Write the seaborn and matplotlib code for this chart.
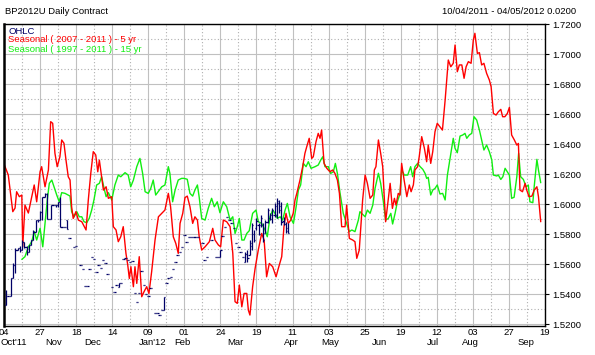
import matplotlib
matplotlib.use("Agg")
import matplotlib.pyplot as plt
import matplotlib.transforms as mtransforms
import numpy as np
import pandas as pd
import seaborn as sns

# ---------------- data (x = trading-day index from 04 Oct 2011) ----------------
red_day = [0.0, 1.9, 3.9, 4.9, 5.6, 6.8, 7.9, 8.3, 9.3, 10.8, 12.3, 13.4, 14.5, 16.0, 16.7, 18.2, 19.7, 20.7, 21.6, 22.6,
           23.6, 24.8, 25.6, 26.6, 27.5, 28.5, 29.3, 30.0, 30.7, 31.9, 33.0, 34.5, 36.4, 37.4, 38.5, 39.6, 40.7, 41.6, 42.3, 43.0,
           44.1, 45.3, 46.3, 47.8, 48.5, 49.7, 50.7, 51.8, 52.9, 54.1, 54.9, 55.6, 56.3, 57.4, 58.1, 58.9, 60.0, 61.1, 62.1, 63.3,
           64.3, 65.5, 67.0, 68.5, 70.0, 71.4, 72.9, 73.9, 75.1, 76.2, 77.3, 78.1, 79.3, 80.3, 81.3, 82.5, 83.7, 84.7, 85.8, 86.6,
           87.7, 89.2, 91.1, 92.6, 93.6, 95.1, 96.1, 97.3, 98.8, 100.3, 101.5, 102.5, 103.5, 104.4, 105.5, 106.5, 107.7, 108.4, 109.1, 110.3,
           111.4, 112.8, 114.3, 115.4, 116.5, 117.7, 119.2, 120.7, 121.7, 123.2, 124.2, 125.1, 126.1, 127.2, 128.3, 129.1, 129.9, 131.3, 132.5, 133.5,
           134.3, 135.4, 136.5, 137.2, 138.4, 139.4, 140.2, 140.9, 142.0, 143.2, 144.6, 145.8, 146.8, 147.9, 148.8, 149.8, 151.3, 152.0, 153.2, 154.7,
           155.7, 156.5, 157.6, 159.1, 160.2, 161.2, 162.4, 163.6, 164.3, 165.0, 166.1, 167.1, 168.0, 168.6, 169.3, 170.1, 171.3, 172.3, 173.2, 173.9,
           174.9, 175.7, 176.4, 177.5, 178.7, 179.8, 180.6, 181.6, 182.3, 183.5, 184.2, 185.3, 186.5, 187.5, 188.2, 189.3, 190.2, 191.2, 192.2, 193.4,
           194.5, 195.7, 197.1, 198.2, 199.3, 200.1, 201.1, 202.0, 203.1, 204.1, 205.0, 206.0, 207.2, 208.2, 208.9, 210.0, 210.9, 211.9, 212.9, 214.1,
           215.3, 216.1, 217.1, 218.3, 219.3, 220.4, 221.2, 222.2, 223.3, 224.2, 225.2, 226.4, 227.5, 228.2, 228.9, 230.0, 231.2, 231.9, 232.9, 234.2,
           235.2, 236.4, 237.1, 238.1]
red_price = [1.6267, 1.6193, 1.5949, 1.5973, 1.6082, 1.6049, 1.6060, 1.5715, 1.5993, 1.5940, 1.6049, 1.6127, 1.6015, 1.6215, 1.6249, 1.6115, 1.6227, 1.6549, 1.6538, 1.6338,
             1.6249, 1.6315, 1.6427, 1.6405, 1.6293, 1.6182, 1.6160, 1.5982, 1.5904, 1.5949, 1.5893, 1.5882, 1.5827, 1.6027, 1.6205, 1.6349, 1.6327, 1.6215, 1.6293, 1.6215,
             1.6093, 1.6115, 1.6038, 1.6049, 1.5849, 1.5827, 1.5749, 1.5782, 1.5849, 1.5671, 1.5593, 1.5504, 1.5582, 1.5449, 1.5582, 1.5471, 1.5649, 1.5382, 1.5415, 1.5449,
             1.5404, 1.5549, 1.5760, 1.5915, 1.5938, 1.5960, 1.6071, 1.5982, 1.5782, 1.5738, 1.5671, 1.5871, 1.5938, 1.6043, 1.6053, 1.5982, 1.5871, 1.5915, 1.5893, 1.5782,
             1.5693, 1.5715, 1.5749, 1.5838, 1.5760, 1.5727, 1.5715, 1.5893, 1.5882, 1.5849, 1.5671, 1.5349, 1.5338, 1.5460, 1.5315, 1.5404, 1.5404, 1.5293, 1.5260, 1.5449,
             1.5571, 1.5693, 1.5804, 1.5760, 1.5515, 1.5604, 1.5582, 1.5515, 1.5571, 1.5649, 1.5849, 1.5938, 1.5871, 1.5893, 1.5938, 1.6027, 1.6071, 1.6160, 1.6249, 1.6338,
             1.6382, 1.6438, 1.6304, 1.6315, 1.6415, 1.6471, 1.6438, 1.6493, 1.6271, 1.6238, 1.6215, 1.6227, 1.6205, 1.6160, 1.6071, 1.5849, 1.5849, 1.5993, 1.5771, 1.5760,
             1.5749, 1.5638, 1.5693, 1.6027, 1.6193, 1.6138, 1.6038, 1.6060, 1.6227, 1.6249, 1.6427, 1.6338, 1.6249, 1.6071, 1.5882, 1.5982, 1.6138, 1.5971, 1.6038, 1.5993,
             1.6071, 1.6060, 1.6271, 1.6160, 1.6049, 1.6127, 1.6082, 1.6127, 1.6227, 1.6249, 1.6315, 1.6449, 1.6371, 1.6282, 1.6393, 1.6271, 1.6349, 1.6482, 1.6538, 1.6515,
             1.6493, 1.6693, 1.6960, 1.6915, 1.6938, 1.7060, 1.6882, 1.6927, 1.6927, 1.6838, 1.6915, 1.6949, 1.6938, 1.7093, 1.7138, 1.7004, 1.7009, 1.6927, 1.6938, 1.6871,
             1.6827, 1.6782, 1.6604, 1.6593, 1.6615, 1.6631, 1.6582, 1.6582, 1.6604, 1.6644, 1.6460, 1.6427, 1.6393, 1.6404, 1.6093, 1.6082, 1.6138, 1.6093, 1.6049, 1.6053,
             1.6093, 1.6115, 1.6049, 1.5882]

green_day = [7.9, 9.3, 10.8, 12.3, 13.4, 14.5, 16.0, 17.2, 18.2, 19.2, 20.1, 21.2, 22.2, 23.4, 24.5, 25.6, 27.1, 29.3, 30.0, 31.1,
             32.3, 33.4, 34.5, 35.5, 36.7, 37.8, 38.9, 39.9, 41.1, 42.3, 43.3, 44.4, 45.3, 46.3, 47.8, 49.2, 50.7, 51.8, 53.7, 55.1,
             56.2, 57.4, 58.9, 60.3, 61.5, 62.6, 64.0, 65.1, 66.2, 67.3, 68.9, 70.0, 71.4, 72.9, 73.6, 74.8, 75.9, 77.3, 78.8, 79.9,
             81.3, 82.5, 83.7, 84.7, 85.8, 86.6, 87.7, 89.2, 90.6, 92.1, 93.3, 94.6, 95.8, 97.3, 98.8, 100.3, 101.5, 102.5, 103.5, 104.4,
             105.5, 106.5, 107.7, 108.8, 110.3, 111.8, 112.8, 114.3, 115.8, 116.8, 118.0, 119.2, 120.2, 121.3, 122.5, 123.6, 124.7, 125.7, 126.9, 128.4,
             129.6, 130.6, 131.6, 132.8, 134.0, 135.0, 136.2, 138.0, 139.4, 140.5, 141.4, 142.4, 143.9, 144.9, 146.1, 147.0, 147.9, 149.1, 150.5, 152.0,
             153.2, 154.3, 155.7, 157.2, 157.9, 159.4, 160.2, 161.2, 162.4, 163.6, 164.6, 166.1, 167.1, 168.3, 169.3, 170.5, 171.6, 172.4, 173.5, 174.5,
             175.7, 176.4, 177.6, 179.1, 180.4, 181.3, 182.3, 183.5, 184.6, 185.8, 186.8, 187.5, 188.2, 189.3, 190.2, 191.2, 192.2, 193.4, 194.6, 195.7,
             196.7, 197.9, 199.3, 200.1, 201.1, 202.3, 203.5, 204.5, 205.3, 206.4, 207.5, 208.5, 209.7, 210.9, 211.9, 212.9, 214.1, 215.3, 216.4, 217.1,
             218.6, 219.3, 220.4, 221.3, 222.3, 223.3, 224.2, 225.2, 226.3, 227.5, 228.3, 229.2, 230.4, 231.6, 232.6, 233.3, 234.6, 235.2, 236.4, 237.1,
             238.1]
green_price = [1.5631, 1.5649, 1.5715, 1.5749, 1.5816, 1.5760, 1.5838, 1.5715, 1.5871, 1.6027, 1.6138, 1.6160, 1.6115, 1.6060, 1.6015, 1.6076, 1.6071, 1.6053, 1.5949, 1.5915,
               1.5949, 1.5915, 1.5915, 1.5882, 1.5876, 1.5904, 1.5960, 1.6027, 1.6127, 1.6138, 1.6182, 1.6104, 1.6049, 1.6076, 1.6027, 1.6127, 1.6193, 1.6182, 1.6209, 1.6193,
               1.6115, 1.6160, 1.6249, 1.6304, 1.6204, 1.6082, 1.6071, 1.6104, 1.6160, 1.6060, 1.6093, 1.6115, 1.6127, 1.6249, 1.6204, 1.6015, 1.6093, 1.6160, 1.6171, 1.6171,
               1.6165, 1.6071, 1.6053, 1.6093, 1.6127, 1.6045, 1.5904, 1.5893, 1.5971, 1.6038, 1.5982, 1.6015, 1.5942, 1.6015, 1.5982, 1.5893, 1.5915, 1.5804, 1.5849, 1.5904,
               1.5760, 1.5760, 1.5804, 1.5822, 1.5938, 1.5960, 1.5882, 1.5871, 1.5827, 1.5782, 1.5915, 1.5960, 1.5938, 1.5904, 1.5915, 1.5893, 1.5960, 1.6004, 1.5915, 1.5871,
               1.5982, 1.6093, 1.6127, 1.6271, 1.6249, 1.6282, 1.6238, 1.6249, 1.6260, 1.6293, 1.6315, 1.6249, 1.6249, 1.6204, 1.6215, 1.6271, 1.6204, 1.6071, 1.5938, 1.5871,
               1.5816, 1.5827, 1.5816, 1.5893, 1.5949, 1.5927, 1.5915, 1.5960, 1.5938, 1.5993, 1.6104, 1.6205, 1.6138, 1.6015, 1.5893, 1.5904, 1.5938, 1.5867, 1.5938, 1.6015,
               1.6071, 1.6227, 1.6193, 1.6193, 1.6249, 1.6182, 1.6249, 1.6271, 1.6249, 1.6231, 1.6204, 1.6171, 1.6178, 1.6060, 1.6093, 1.6104, 1.6127, 1.6067, 1.6071, 1.6027,
               1.6193, 1.6304, 1.6438, 1.6371, 1.6342, 1.6453, 1.6460, 1.6471, 1.6438, 1.6460, 1.6471, 1.6582, 1.6560, 1.6493, 1.6427, 1.6360, 1.6393, 1.6349, 1.6293, 1.6193,
               1.6187, 1.6193, 1.6164, 1.6182, 1.6238, 1.6215, 1.6193, 1.6038, 1.6045, 1.6182, 1.6338, 1.6182, 1.6164, 1.6115, 1.6127, 1.6015, 1.6009, 1.6115, 1.6298, 1.6227,
               1.6142]

ohlc_day = list(range(1, 30)) + [31, 32] + list(range(34, 47)) + list(range(48, 66)) + list(range(67, 87)) + \
           [88, 89, 90, 92, 94, 95, 96] + list(range(97, 127))
ohlc_open = [1.5327, 1.5387, 1.5387, 1.5507, 1.5593, 1.5693, 1.5707, 1.5693, 1.5747, 1.5713, 1.5680, 1.5727, 1.5760, 1.5813, 1.5893,
             1.5893, 1.5947, 1.6047, 1.6067, 1.5900, 1.5900, 1.5993, 1.5993, 1.5993, 1.6013, 1.5847, 1.5847, 1.5893, 1.5773,
             1.5715, 1.5722,
             1.5593, 1.5565, 1.5455, 1.5453, 1.5565, 1.5645, 1.5631, 1.5545, 1.5593, 1.5573, 1.5627, 1.5609, 1.5533,
             1.5449, 1.5415, 1.5460, 1.5445, 1.5471, 1.5635, 1.5643, 1.5627, 1.5615, 1.5618, 1.5405, 1.5345, 1.5405, 1.5553, 1.5460, 1.5398, 1.5387, 1.5438,
             1.5271, 1.5271, 1.5260, 1.5293, 1.5293, 1.5471, 1.5507, 1.5515, 1.5565, 1.5615, 1.5660, 1.5682, 1.5715, 1.5793, 1.5749, 1.5782, 1.5782, 1.5782, 1.5782, 1.5782,
             1.5742, 1.5627, 1.5649, 1.5760, 1.5645, 1.5645, 1.5645,
             1.5787, 1.5849, 1.5915, 1.5893, 1.5875, 1.5838, 1.5742, 1.5711, 1.5682, 1.5645,
             1.5615, 1.5670, 1.5660, 1.5720, 1.5800, 1.5840, 1.5860, 1.5860, 1.5860, 1.5810, 1.5880, 1.5910, 1.5900, 1.5930, 1.5930, 1.6010, 1.5990, 1.5890, 1.5870, 1.5840]
ohlc_high = [1.5427, 1.5387, 1.5507, 1.5607, 1.5707, 1.5707, 1.5720, 1.5760, 1.5747, 1.5720, 1.5727, 1.5760, 1.5827, 1.5893, 1.5893,
             1.5953, 1.6047, 1.6073, 1.6073, 1.5900, 1.5993, 1.5993, 1.5993, 1.6013, 1.6047, 1.5847, 1.5847, 1.5893, 1.5773,
             1.5715, 1.5722,
             1.5593, 1.5565, 1.5455, 1.5453, 1.5565, 1.5645, 1.5631, 1.5545, 1.5593, 1.5573, 1.5627, 1.5609, 1.5533,
             1.5449, 1.5415, 1.5460, 1.5471, 1.5471, 1.5635, 1.5643, 1.5627, 1.5615, 1.5618, 1.5405, 1.5345, 1.5405, 1.5553, 1.5460, 1.5398, 1.5387, 1.5438,
             1.5271, 1.5271, 1.5260, 1.5293, 1.5378, 1.5471, 1.5507, 1.5515, 1.5565, 1.5615, 1.5660, 1.5682, 1.5715, 1.5793, 1.5749, 1.5782, 1.5782, 1.5782, 1.5782, 1.5782,
             1.5742, 1.5627, 1.5649, 1.5760, 1.5645, 1.5645, 1.5693,
             1.5787, 1.5849, 1.5915, 1.5893, 1.5875, 1.5838, 1.5742, 1.5711, 1.5682, 1.5645,
             1.5682, 1.5693, 1.5760, 1.5871, 1.5827, 1.5905, 1.5871, 1.5927, 1.5871, 1.5893, 1.5971, 1.5938, 1.5971, 1.6005, 1.6038, 1.6027, 1.6015, 1.5915, 1.5882, 1.5871]
ohlc_low = [1.5327, 1.5387, 1.5387, 1.5507, 1.5540, 1.5693, 1.5680, 1.5693, 1.5707, 1.5660, 1.5680, 1.5727, 1.5760, 1.5813, 1.5880,
            1.5893, 1.5893, 1.6047, 1.5900, 1.5900, 1.5900, 1.5993, 1.5980, 1.5980, 1.5847, 1.5847, 1.5847, 1.5833, 1.5773,
            1.5715, 1.5722,
            1.5593, 1.5565, 1.5455, 1.5453, 1.5565, 1.5645, 1.5631, 1.5545, 1.5593, 1.5573, 1.5627, 1.5609, 1.5533,
            1.5449, 1.5415, 1.5460, 1.5445, 1.5471, 1.5635, 1.5643, 1.5627, 1.5615, 1.5618, 1.5405, 1.5345, 1.5405, 1.5553, 1.5460, 1.5398, 1.5387, 1.5438,
            1.5271, 1.5271, 1.5260, 1.5293, 1.5293, 1.5471, 1.5507, 1.5515, 1.5565, 1.5615, 1.5660, 1.5682, 1.5715, 1.5793, 1.5749, 1.5782, 1.5782, 1.5782, 1.5782, 1.5782,
            1.5742, 1.5627, 1.5649, 1.5760, 1.5645, 1.5645, 1.5645,
            1.5787, 1.5849, 1.5915, 1.5893, 1.5875, 1.5838, 1.5742, 1.5711, 1.5682, 1.5645,
            1.5615, 1.5615, 1.5660, 1.5693, 1.5749, 1.5827, 1.5793, 1.5849, 1.5749, 1.5805, 1.5871, 1.5893, 1.5871, 1.5915, 1.5905, 1.5938, 1.5860, 1.5860, 1.5805, 1.5805]
ohlc_close = [1.5387, 1.5387, 1.5507, 1.5593, 1.5693, 1.5707, 1.5693, 1.5747, 1.5713, 1.5680, 1.5727, 1.5760, 1.5813, 1.5893, 1.5893,
              1.5947, 1.6047, 1.6067, 1.5900, 1.5900, 1.5993, 1.5993, 1.5993, 1.6013, 1.5847, 1.5847, 1.5847, 1.5833, 1.5773,
              1.5715, 1.5722,
              1.5593, 1.5565, 1.5455, 1.5453, 1.5565, 1.5645, 1.5631, 1.5545, 1.5593, 1.5573, 1.5627, 1.5609, 1.5533,
              1.5449, 1.5415, 1.5460, 1.5471, 1.5471, 1.5635, 1.5643, 1.5627, 1.5615, 1.5618, 1.5405, 1.5345, 1.5405, 1.5553, 1.5460, 1.5398, 1.5387, 1.5438,
              1.5271, 1.5271, 1.5260, 1.5293, 1.5378, 1.5471, 1.5507, 1.5515, 1.5565, 1.5615, 1.5660, 1.5682, 1.5715, 1.5793, 1.5749, 1.5782, 1.5782, 1.5782, 1.5782, 1.5782,
              1.5742, 1.5627, 1.5649, 1.5760, 1.5645, 1.5645, 1.5693,
              1.5787, 1.5849, 1.5915, 1.5893, 1.5875, 1.5838, 1.5742, 1.5711, 1.5682, 1.5645,
              1.5670, 1.5640, 1.5740, 1.5860, 1.5760, 1.5890, 1.5800, 1.5910, 1.5760, 1.5880, 1.5960, 1.5930, 1.5960, 1.5990, 1.6020, 1.5960, 1.5880, 1.5870, 1.5820, 1.5810]

day_ticks = [0, 16, 32, 48, 64, 80, 96, 112, 128, 144, 160, 176, 192, 208, 224, 240]
day_labels = ["04", "27", "18", "14", "09", "01", "24", "19", "11", "03", "25", "19", "12", "03", "27", "19"]
month_labels = ["Oct'11", "Nov", "Dec", "Jan'12", "Feb", "Mar", "Apr", "May", "Jun", "Jul", "Aug", "Sep"]
month_pos = [4.4, 22.2, 39.4, 66.0, 79.3, 102.8, 127.6, 144.7, 166.8, 190.5, 206.9, 231.5]
price_ticks = [1.52, 1.54, 1.56, 1.58, 1.60, 1.62, 1.64, 1.66, 1.68, 1.70, 1.72]

# ---------------- style ----------------
sns.set_theme(style="white")
plt.rcParams["font.family"] = ["Liberation Sans", "DejaVu Sans"]
FS = 6.8
NAVY = "#000066"
RED = "#ff0000"
GREEN = "#11ee11"

fig = plt.figure(figsize=(5.95, 3.55), dpi=100)
fig.patch.set_facecolor("white")
ax = fig.add_axes([4 / 595, 1 - 326 / 355, 541 / 595, 302 / 355])
ax.set_facecolor("white")

ax.set_xlim(0, 240)
ax.set_ylim(1.5187, 1.7200)

ax.set_xticks(day_ticks)
ax.set_xticklabels(day_labels)
ax.set_xticks(np.arange(8, 240, 16), minor=True)
ax.set_yticks(price_ticks)
ax.set_yticklabels([f"{v:.4f}" for v in price_ticks])
ax.set_yticks(np.arange(1.53, 1.72, 0.02), minor=True)

ax.grid(which="major", color="#c0c0c0", lw=0.8, ls="-")
ax.grid(which="minor", color="#b0b0b0", lw=0.8, ls=(0, (1, 2)))
ax.set_axisbelow(True)

ax.yaxis.tick_right()
ax.tick_params(axis="y", which="major", direction="out", length=3, width=0.8, color="black",
               labelsize=FS, pad=2, labelcolor="black")
ax.tick_params(axis="x", which="major", direction="out", length=3, width=0.8, color="black",
               labelsize=FS, pad=-1.5, labelcolor="black")
ax.tick_params(which="minor", length=0)
for side, sp in ax.spines.items():
    sp.set_visible(True)
    sp.set_color("black")
    sp.set_linewidth(1.0)
ax.spines["left"].set_linewidth(1.8)

# seasonal lines
df_red = pd.DataFrame({"day": red_day, "price": red_price})
df_green = pd.DataFrame({"day": green_day, "price": green_price})
sns.lineplot(data=df_green, x="day", y="price", color=GREEN, lw=1.0, ax=ax, sort=False, estimator=None)
sns.lineplot(data=df_red, x="day", y="price", color=RED, lw=1.0, ax=ax, sort=False, estimator=None)

# OHLC bars
d = np.array(ohlc_day, dtype=float)
w = 0.55
ax.vlines(d, ohlc_low, ohlc_high, color=NAVY, lw=0.9, zorder=4)
ax.hlines(ohlc_open, d - w, d, color=NAVY, lw=0.9, zorder=4)
ax.hlines(ohlc_close, d, d + w, color=NAVY, lw=0.9, zorder=4)

ax.set_xlabel("")
ax.set_ylabel("")

# month labels under day labels
trans = mtransforms.blended_transform_factory(ax.transData, ax.transAxes)
for lab, pos in zip(month_labels, month_pos):
    ax.text(pos, -16.5 / 302, lab, transform=trans, ha="center", va="center", fontsize=FS, color="black")

# legend text (inside top-left)
for k, (txt, col) in enumerate([("OHLC", NAVY),
                                ("Seasonal ( 2007 - 2011 ) - 5 yr", RED),
                                ("Seasonal ( 1997 - 2011 ) - 15 yr", GREEN)]):
    fig.text(8.5 / 595, 1 - (31 + 9 * k) / 355, txt, ha="left", va="center", fontsize=FS, color=col)

# header texts
fig.text(5 / 595, 1 - 12 / 355, "BP2012U Daily Contract", ha="left", va="center", fontsize=FS, color="black")
fig.text(576 / 595, 1 - 12 / 355, "10/04/2011 - 04/05/2012 0.0200", ha="right", va="center", fontsize=FS, color="black")

fig.savefig("out.png", dpi=100, facecolor="white")
